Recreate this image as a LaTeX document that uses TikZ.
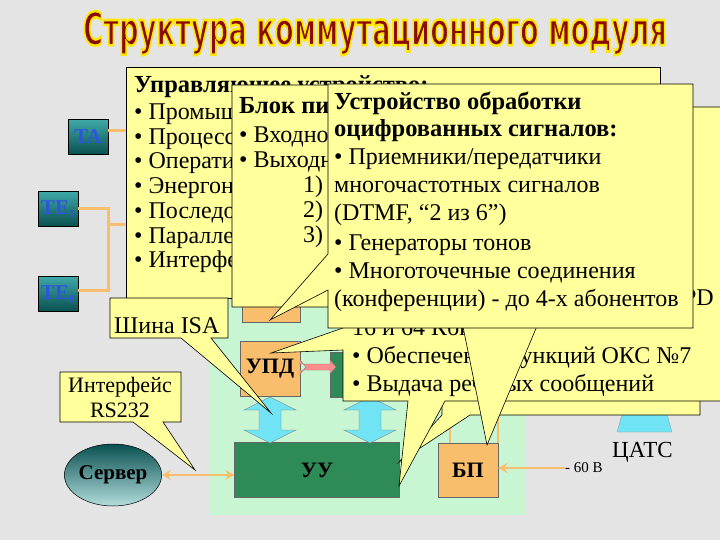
\documentclass[tikz,border=0pt]{standalone}
\usepackage{fontspec}
\usetikzlibrary{shapes.geometric,arrows.meta}
\setmainfont{Liberation Serif}
\newfontfamily\titlefont{DejaVu Sans}
\definecolor{bg}{HTML}{E4E4E4}
\definecolor{cy}{HTML}{FFFF9C}
\definecolor{orng}{HTML}{F8BE6C}
\definecolor{dgrn}{HTML}{2E8B57}
\definecolor{mint}{HTML}{C8F5D2}
\definecolor{tred}{HTML}{8B0A0A}
\definecolor{tyel}{HTML}{FFE800}
\definecolor{teal1}{HTML}{3FA8A8}
\definecolor{teal2}{HTML}{0A5050}
\definecolor{tblue}{HTML}{2F55E0}
\definecolor{ablue}{HTML}{70E4F4}
\begin{document}
\begin{tikzpicture}[x=1pt,y=-1pt,
  callout/.style={fill=cy,draw=black,line width=0.6pt},
  ctext/.style={anchor=west,inner sep=0pt,font=\fontsize{24}{24}\selectfont},
  ctitle/.style={anchor=west,inner sep=0pt,font=\fontsize{24.5}{24.5}\selectfont\bfseries},
  term/.style={draw=black,line width=0.5pt,top color=teal1,bottom color=teal2,minimum width=40pt,minimum height=35pt,inner sep=0pt,text=tblue,font=\fontsize{21}{21}\selectfont\bfseries},
  obox/.style={fill=orng,draw=black!60,line width=0.4pt,inner sep=0pt,font=\fontsize{22}{22}\selectfont\bfseries},
  gbox/.style={fill=dgrn,draw=black!60,line width=0.4pt,inner sep=0pt,font=\fontsize{22}{22}\selectfont\bfseries},
  wire/.style={draw=orng,line width=3pt},
  barrow/.style={fill=ablue,draw=black!50,line width=0.4pt}]
\useasboundingbox (0,0) rectangle (720,540);
\fill[bg] (0,0) rectangle (720,540);
% title
\node (title) [text=tred,font=\titlefont\fontsize{46}{46}\selectfont\bfseries,xscale=0.595] at (375,33) {\special{pdf:literal direct 2 Tr 2.6 w 1 0.91 0 RG}Структура коммутационного модуля\special{pdf:literal direct 0 Tr}};
% green area
\fill[mint] (210,285) rectangle (525,515);
% terminals
\node[term] (ta) at (88,137) {TA};
\node[term] (te1) at (58,209) {TE\textsubscript{\fontsize{11}{11}\selectfont 1}};
\node[term] (te8) at (58,294) {TE\textsubscript{\fontsize{11}{11}\selectfont 8}};
\coordinate (j1) at (108,209);
\coordinate (j8) at (108,290);
\coordinate (jm) at (108,225);
\coordinate (b1a) at (128,131);
\coordinate (b1b) at (128,225);
\draw[wire] (ta.east |- b1a) -- (b1a);
\draw[wire] (te1.east) -- (j1) -- (j8) -- (te8.east |- j8);
\draw[wire] (jm) -- (b1b);
% blocks
\node[obox,minimum width=58pt,minimum height=32pt] (hid) at (271,306) {};
\node[obox,minimum width=60pt,minimum height=55pt] (upd) at (270,369) {УПД};
\node[gbox,minimum width=70pt,minimum height=45pt] (gb) at (365,375) {};
\node[gbox,minimum width=165pt,minimum height=55pt] (uu) at (317,470) {УУ};
\node[obox,minimum width=60pt,minimum height=54pt] (bp) at (468,470) {БП};
\draw[barrow,fill=red!45] (300,360) -- (306,367) -- (300,374) -- (300,370) -- (330,370) -- (330,374) -- (336,367) -- (330,360) -- (330,364) -- (300,364) -- cycle;
\draw[barrow] (270,397) -- (296,410) -- (281,410) -- (281,430) -- (296,430) -- (270,443) -- (244,430) -- (259,430) -- (259,410) -- (244,410) -- cycle;
\draw[barrow] (370,397) -- (396,410) -- (381,410) -- (381,430) -- (396,430) -- (370,443) -- (344,430) -- (359,430) -- (359,410) -- (344,410) -- cycle;
\draw[draw=orng,line width=2.5pt] (450,408) -- (450,443);
\draw[draw=orng,line width=2.5pt] (498,408) -- (498,443);
% server
\node[ellipse,draw=black,line width=0.5pt,top color=teal2,bottom color=teal1!40,minimum width=80pt,minimum height=62pt,inner sep=0pt,font=\fontsize{21}{21}\selectfont\bfseries] (srv) at (113,475) {Сервер};
\draw[orng,line width=2.5pt,<->,>={Stealth[length=9pt,width=10pt]}] (srv.east) -- (uu.west |- srv.east);
% CATS
\fill[ablue,draw=black!40,line width=0.3pt] (617,432) -- (672,432) -- (663,400) -- (626,400) -- cycle;
\node (v60) [inner sep=0pt,anchor=west,font=\fontsize{15}{15}\selectfont] at (565,468) {- 60 В};
\node (cats) [inner sep=0pt,anchor=west,font=\fontsize{23}{23}\selectfont] at (612,452) {ЦАТС};
\draw[orng,line width=2.5pt,->,>={Stealth[length=9pt,width=10pt]}] (v60.west) -- (bp.east |- v60.west);
% box5
\draw[callout] (442,150) -- (700,150) -- (700,415) -- (470,415) -- (399,462) -- (442,415) -- cycle;
% box4
\draw[callout] (343,107) -- (725,107) -- (725,401) -- (445,401) -- (399,486) -- (408,401) -- (343,401) -- (343,350) -- (271,353) -- (343,328) -- cycle;
\node[ctext,anchor=east] at (714,298) {LAPD};
\node[ctext] at (352,327) {16 и 64 Кбит/с};
\node[ctext] at (352,357) {• Обеспечение функций ОКС №7};
\node[ctext] at (352,385) {• Выдача речевых сообщений};
% box1
\draw[callout] (126,67) rectangle (660,298);
\node[ctitle] at (134,87) {Управляющее устройство:};
\node[ctext] at (134,114) {• Промышленный компьютер};
\node[ctext] at (134,139) {• Процессор};
\node[ctext] at (134,163) {• Оперативная память};
\node[ctext] at (134,188) {• Энергонезависимая память};
\node[ctext] at (134,213) {• Последовательный порт};
\node[ctext] at (134,238) {• Параллельный порт};
\node[ctext] at (134,262) {• Интерфейс};
% ISA callout
\draw[callout] (110,298) -- (228,298) -- (228,338) -- (211,338) -- (271,413) -- (181,338) -- (110,338) -- cycle;
\node[ctext] (isa) at (114,326) {Шина ISA};
% RS232 callout
\draw[callout] (60,372) -- (181,372) -- (181,422) -- (163,422) -- (195,470) -- (133,422) -- (60,422) -- cycle;
\node[ctext,anchor=center,align=center,font=\fontsize{22}{25}\selectfont] (rs) at (120,397) {Интерфейс\\RS232};
% box2
\draw[callout] (232,85) -- (600,85) -- (600,307) -- (545,307) -- (487,445) -- (459,307) -- (232,307) -- cycle;
\node[ctitle] at (239,106) {Блок питания:};
\node[ctext] at (239,137) {• Входное напряжение};
\node[ctext] at (239,162) {• Выходные напряжения:};
\node[ctext] at (303,187) {1) +5 В};
\node[ctext] at (303,212) {2) +12 В};
\node[ctext] at (303,237) {3) -12 В};
% box3
\draw[callout] (328,84) -- (693,84) -- (693,328) -- (328,328) -- (328,290) -- (270,320) -- (328,254) -- cycle;
\node[ctitle] at (334,103) {Устройство обработки};
\node[ctitle] at (334,131) {оцифрованных сигналов:};
\node[ctext] at (334,159) {• Приемники/передатчики};
\node[ctext] at (334,187) {многочастотных сигналов};
\node[ctext] at (334,215) {(DTMF, “2 из 6”)};
\node[ctext] at (334,245) {• Генераторы тонов};
\node[ctext] at (334,273) {• Многоточечные соединения};
\node[ctext] at (334,300) {(конференции) - до 4-х абонентов};
\end{tikzpicture}
\end{document}
